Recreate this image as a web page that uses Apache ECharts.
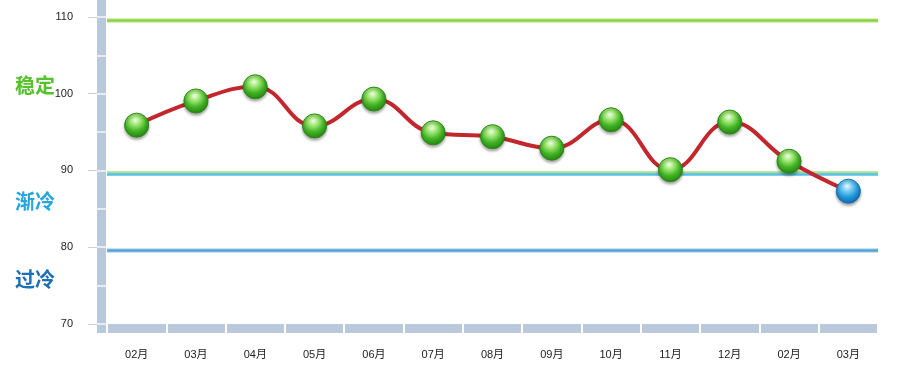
<!DOCTYPE html>
<html>
<head>
<meta charset="utf-8">
<script src="https://cdn.jsdelivr.net/npm/echarts@6/dist/echarts.min.js"></script>
<style>html,body{margin:0;padding:0;background:#fff}#c{width:901px;height:376px}</style>
</head>
<body>
<div id="c"></div>
<script>
var categories = ['02月','03月','04月','05月','06月','07月','08月','09月','10月','11月','12月','02月','03月'];
var values = [95.9, 99.05, 100.9, 95.8, 99.3, 94.9, 94.4, 92.9, 96.6, 90.1, 96.3, 91.2, 87.3];
var yTickLabels = [70, 80, 90, 100, 110];
var yBreaks = [70, 75, 80, 85, 90, 95, 100, 105, 110];
var bandLabels = ['稳定', '渐冷', '过冷'];
var thresholdLines = [109.61, 89.80, 89.54, 79.61];

var Y_MIN = 68.83, Y_MAX = 112.2;

var greenBall = {type:'radial', x:0.45, y:0.3, r:0.72, colorStops:[
  {offset:0, color:'#f0fde4'},{offset:0.3, color:'#98e46c'},{offset:0.62, color:'#41b224'},{offset:1, color:'#23800f'}]};
var blueBall = {type:'radial', x:0.45, y:0.3, r:0.72, colorStops:[
  {offset:0, color:'#e8f7fe'},{offset:0.3, color:'#72cbf1'},{offset:0.62, color:'#2196d8'},{offset:1, color:'#0f62a8'}]};

var seriesData = values.map(function(v){
  var cold = v < 90;
  return {value: v, itemStyle: {color: cold ? blueBall : greenBall, borderColor: cold ? '#1670b5' : '#2a8a18', borderWidth: 1,
    shadowBlur: 3, shadowColor: 'rgba(0,0,0,0.35)', shadowOffsetY: 2}};
});

var chart = echarts.init(document.getElementById('c'), null, {renderer:'canvas'});
chart.setOption({
  animation: false,
  grid: {left: 107, right: 23, top: 0, bottom: 43},
  xAxis: [
    {type:'category', data: categories, boundaryGap: true, position:'bottom', offset: -4.5,
     axisLine:{show:true, lineStyle:{color:'#b9c9db', width:9, cap:'butt'}},
     axisTick:{show:false},
     axisLabel:{margin:21, fontSize:11, color:'#222', fontFamily:'Liberation Sans, Noto Sans CJK SC, sans-serif'},
     splitLine:{show:false}},
    {type:'category', data: categories, boundaryGap: true, position:'bottom', offset: -9, z: 5,
     axisLine:{show:false},
     axisTick:{show:true, interval:0, length:9, lineStyle:{color:'#ffffff', width:2}},
     axisLabel:{show:false}, splitLine:{show:false}}
  ],
  yAxis: [
    {type:'value', min:Y_MIN, max:Y_MAX, position:'left', offset:10,
     axisLine:{show:false},
     axisTick:{show:true, length:9, customValues: yTickLabels, lineStyle:{color:'#d0d0d0', width:1}},
     axisLabel:{margin:24, fontSize:11, color:'#222', customValues: yTickLabels, fontFamily:'Liberation Sans, sans-serif'},
     splitLine:{show:false}},
    {type:'value', min:Y_MIN, max:Y_MAX, position:'left', offset:5.5,
     axisLine:{show:true, lineStyle:{color:'#b9c9db', width:9, cap:'butt'}},
     axisTick:{show:false}, axisLabel:{show:false}, splitLine:{show:false}},
    {type:'value', min:Y_MIN, max:Y_MAX, position:'left', offset:10, z: 5,
     axisLine:{show:false},
     axisTick:{show:true, inside:true, length:9, customValues: yBreaks, lineStyle:{color:'rgba(255,255,255,0.85)', width:1.5}},
     axisLabel:{show:false}, splitLine:{show:false}}
  ],
  graphic: [
    {type:'text', left:15, top:75, style:{text: bandLabels[0], fill:'#55c12b', font:'bold 20px "Noto Sans CJK SC"'}},
    {type:'text', left:15, top:191, style:{text: bandLabels[1], fill:'#27a5de', font:'bold 20px "Noto Sans CJK SC"'}},
    {type:'text', left:15, top:269, style:{text: bandLabels[2], fill:'#1b6fb7', font:'bold 20px "Noto Sans CJK SC"'}}
  ],
  series: [
    {type:'line', xAxisIndex:0, yAxisIndex:0, data:[], silent:true,
     markLine:{silent:true, symbol:'none', label:{show:false}, animation:false,
       data:[
         {yAxis: thresholdLines[0], lineStyle:{color:'#dcf2b4', width:5, type:'solid'}},
         {yAxis: thresholdLines[0], lineStyle:{color:'#8ad04a', width:2.5, type:'solid'}},
         {yAxis: thresholdLines[1], lineStyle:{color:'#a8de8e', width:2.5, type:'solid'}},
         {yAxis: thresholdLines[2], lineStyle:{color:'#56c0e6', width:2.5, type:'solid'}},
         {yAxis: thresholdLines[3], lineStyle:{color:'#c4e5f4', width:5, type:'solid'}},
         {yAxis: thresholdLines[3], lineStyle:{color:'#5a9fd4', width:2.5, type:'solid'}}
       ]}},
    {type:'line', xAxisIndex:0, yAxisIndex:0, data: seriesData, smooth:0.45,
     symbol:'circle', symbolSize:24, z:10,
     lineStyle:{color:'#c2272d', width:4}}
  ]
});
</script>
</body>
</html>
